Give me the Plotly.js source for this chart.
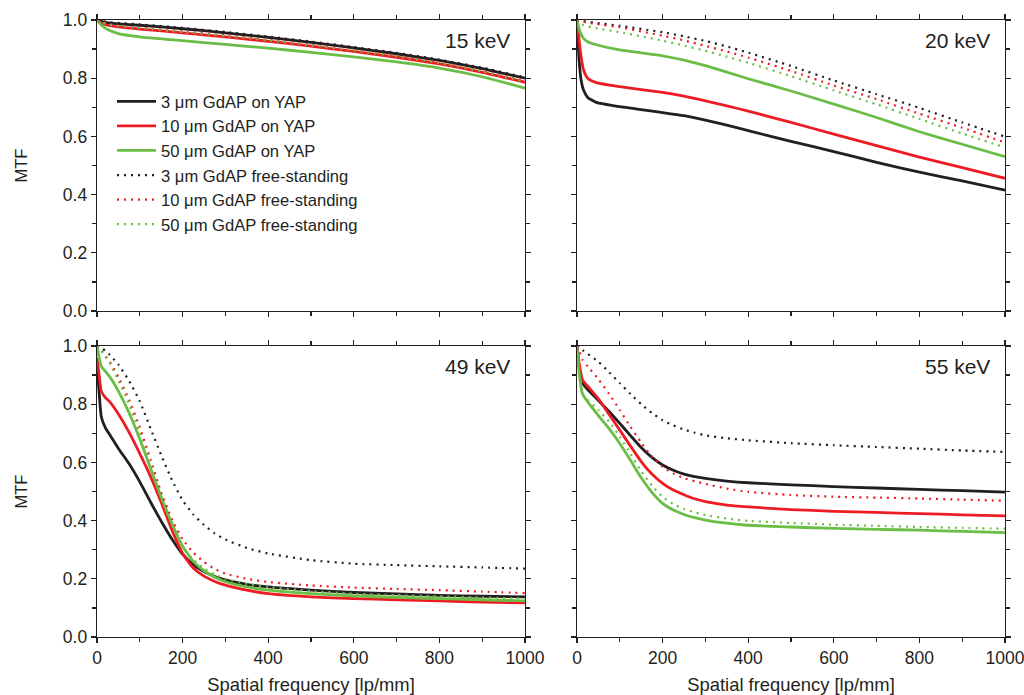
<!DOCTYPE html>
<html>
<head>
<meta charset="utf-8">
<script src="https://cdn.plot.ly/plotly-3.0.1.min.js"></script>
<style>
  html, body { margin: 0; padding: 0; background: #ffffff; }
  #chart { width: 1024px; height: 695px; }
</style>
</head>
<body>
<div id="chart"></div>
<script>
// Series names (legend)
const seriesNames = [
  '3 \u03bcm GdAP on YAP',
  '10 \u03bcm GdAP on YAP',
  '50 \u03bcm GdAP on YAP',
  '3 \u03bcm GdAP free-standing',
  '10 \u03bcm GdAP free-standing',
  '50 \u03bcm GdAP free-standing'
];
const panelLabels = ['15 keV', '20 keV', '49 keV', '55 keV'];
const xTickVals = [0, 200, 400, 600, 800, 1000];
const yTickVals = [0, 0.2, 0.4, 0.6, 0.8, 1.0];

// ---- 15 keV ----
const freq15 = [0, 10, 25, 50, 100, 200, 300, 400, 500, 600, 700, 800, 900, 1000];
const mtf15_3yap  = [1.0, 0.995, 0.990, 0.987, 0.982, 0.970, 0.956, 0.940, 0.923, 0.904, 0.884, 0.861, 0.833, 0.800];
const mtf15_10yap = [1.0, 0.990, 0.982, 0.976, 0.969, 0.956, 0.942, 0.927, 0.910, 0.892, 0.872, 0.849, 0.820, 0.786];
const mtf15_50yap = [1.0, 0.983, 0.967, 0.953, 0.942, 0.929, 0.916, 0.903, 0.889, 0.873, 0.856, 0.835, 0.805, 0.766];
const mtf15_3fs   = [1.0, 0.997, 0.993, 0.990, 0.985, 0.973, 0.959, 0.943, 0.926, 0.907, 0.887, 0.864, 0.836, 0.803];
const mtf15_10fs  = [1.0, 0.994, 0.987, 0.981, 0.974, 0.961, 0.947, 0.932, 0.915, 0.897, 0.877, 0.854, 0.825, 0.791];
const mtf15_50fs  = [1.0, 0.993, 0.985, 0.979, 0.972, 0.959, 0.945, 0.930, 0.913, 0.895, 0.875, 0.852, 0.823, 0.788];

// ---- 20 keV ----
const freq20 = [0, 5, 10, 15, 25, 45, 100, 200, 250, 300, 350, 400, 500, 600, 700, 800, 900, 1000];
const mtf20_3yap  = [1.0, 0.860, 0.790, 0.760, 0.734, 0.717, 0.702, 0.682, 0.671, 0.656, 0.639, 0.620, 0.583, 0.548, 0.511, 0.477, 0.447, 0.415];
const mtf20_10yap = [1.0, 0.930, 0.870, 0.830, 0.800, 0.785, 0.771, 0.751, 0.738, 0.722, 0.705, 0.687, 0.648, 0.608, 0.568, 0.529, 0.493, 0.456];
const mtf20_50yap = [1.0, 0.969, 0.950, 0.937, 0.925, 0.915, 0.897, 0.877, 0.862, 0.843, 0.821, 0.798, 0.756, 0.711, 0.665, 0.616, 0.573, 0.530];
const mtf20_3fs   = [1.0, 0.999, 0.998, 0.996, 0.994, 0.990, 0.980, 0.958, 0.944, 0.928, 0.909, 0.888, 0.842, 0.792, 0.745, 0.698, 0.648, 0.599];
const mtf20_10fs  = [1.0, 0.998, 0.996, 0.994, 0.991, 0.986, 0.975, 0.946, 0.930, 0.911, 0.892, 0.871, 0.825, 0.775, 0.728, 0.678, 0.630, 0.579];
const mtf20_50fs  = [1.0, 0.990, 0.986, 0.983, 0.978, 0.972, 0.958, 0.929, 0.912, 0.894, 0.874, 0.853, 0.807, 0.758, 0.710, 0.660, 0.610, 0.562];

// ---- 49 keV ----
const freq49 = [0, 5, 10, 20, 30, 50, 75, 100, 125, 150, 175, 200, 225, 250, 275, 300, 350, 400, 500, 600, 700, 800, 900, 1000];
const mtf49_3yap  = [0.93, 0.84, 0.757, 0.718, 0.695, 0.648, 0.595, 0.533, 0.464, 0.398, 0.337, 0.285, 0.249, 0.225, 0.208, 0.196, 0.181, 0.172, 0.161, 0.153, 0.148, 0.143, 0.140, 0.138];
const mtf49_10yap = [0.96, 0.90, 0.845, 0.822, 0.808, 0.766, 0.703, 0.630, 0.552, 0.463, 0.368, 0.287, 0.237, 0.209, 0.191, 0.178, 0.161, 0.149, 0.138, 0.132, 0.128, 0.124, 0.120, 0.117];
const mtf49_50yap = [1.0, 0.96, 0.930, 0.912, 0.894, 0.845, 0.770, 0.680, 0.580, 0.481, 0.391, 0.312, 0.260, 0.228, 0.205, 0.190, 0.172, 0.161, 0.149, 0.141, 0.136, 0.132, 0.128, 0.124];
const mtf49_3fs   = [1.0, 0.998, 0.994, 0.983, 0.969, 0.936, 0.880, 0.810, 0.717, 0.625, 0.540, 0.470, 0.421, 0.385, 0.356, 0.335, 0.306, 0.287, 0.264, 0.252, 0.247, 0.243, 0.239, 0.235];
const mtf49_10fs  = [1.0, 0.995, 0.985, 0.965, 0.946, 0.893, 0.815, 0.720, 0.610, 0.497, 0.405, 0.336, 0.290, 0.258, 0.234, 0.218, 0.200, 0.189, 0.177, 0.170, 0.165, 0.161, 0.156, 0.151];
const mtf49_50fs  = [1.0, 0.995, 0.985, 0.962, 0.940, 0.882, 0.800, 0.700, 0.590, 0.477, 0.386, 0.310, 0.266, 0.236, 0.215, 0.200, 0.183, 0.172, 0.158, 0.149, 0.144, 0.140, 0.136, 0.132];

// ---- 55 keV ----
const freq55 = [0, 5, 13, 25, 50, 75, 100, 125, 150, 175, 200, 225, 250, 275, 300, 350, 400, 500, 600, 700, 800, 900, 1000];
const mtf55_3yap  = [1.0, 0.929, 0.872, 0.850, 0.813, 0.775, 0.734, 0.692, 0.651, 0.617, 0.591, 0.573, 0.560, 0.551, 0.545, 0.536, 0.530, 0.523, 0.517, 0.512, 0.507, 0.503, 0.498];
const mtf55_10yap = [1.0, 0.940, 0.883, 0.862, 0.818, 0.765, 0.711, 0.656, 0.603, 0.560, 0.528, 0.505, 0.489, 0.475, 0.465, 0.453, 0.447, 0.438, 0.432, 0.428, 0.424, 0.420, 0.416];
const mtf55_50yap = [1.0, 0.906, 0.835, 0.808, 0.761, 0.716, 0.665, 0.607, 0.547, 0.497, 0.459, 0.436, 0.421, 0.410, 0.402, 0.391, 0.384, 0.378, 0.373, 0.370, 0.367, 0.363, 0.359];
const mtf55_3fs   = [1.0, 0.995, 0.986, 0.973, 0.946, 0.910, 0.872, 0.835, 0.800, 0.770, 0.745, 0.727, 0.713, 0.702, 0.693, 0.683, 0.676, 0.666, 0.659, 0.653, 0.647, 0.641, 0.636];
const mtf55_10fs  = [1.0, 0.985, 0.952, 0.930, 0.886, 0.835, 0.780, 0.722, 0.668, 0.620, 0.585, 0.562, 0.546, 0.535, 0.526, 0.510, 0.499, 0.488, 0.482, 0.479, 0.476, 0.472, 0.468];
const mtf55_50fs  = [1.0, 0.920, 0.837, 0.815, 0.780, 0.740, 0.688, 0.630, 0.570, 0.520, 0.482, 0.457, 0.440, 0.428, 0.419, 0.407, 0.399, 0.392, 0.386, 0.382, 0.378, 0.375, 0.372];

const panels = [
  { freq: freq15, series: [mtf15_3yap, mtf15_10yap, mtf15_50yap, mtf15_3fs, mtf15_10fs, mtf15_50fs] },
  { freq: freq20, series: [mtf20_3yap, mtf20_10yap, mtf20_50yap, mtf20_3fs, mtf20_10fs, mtf20_50fs] },
  { freq: freq49, series: [mtf49_3yap, mtf49_10yap, mtf49_50yap, mtf49_3fs, mtf49_10fs, mtf49_50fs] },
  { freq: freq55, series: [mtf55_3yap, mtf55_10yap, mtf55_50yap, mtf55_3fs, mtf55_10fs, mtf55_50fs] }
];

// styling
const INK = '#231f20';
const colors = ['#231f20', '#ed1c24', '#6abd45', '#231f20', '#ed1c24', '#6abd45'];
const FONT = 'Liberation Sans, Arial, Helvetica, sans-serif';

const traces = [];
panels.forEach((p, pi) => {
  const sfx = pi === 0 ? '' : String(pi + 1);
  p.series.forEach((vals, si) => {
    const dotted = si >= 3;
    traces.push({
      type: 'scatter',
      mode: 'lines',
      x: p.freq,
      y: vals,
      xaxis: 'x' + sfx,
      yaxis: 'y' + sfx,
      name: seriesNames[si],
      legendgroup: 's' + si,
      showlegend: pi === 0,
      line: {
        color: colors[si],
        width: dotted ? 2.2 : 2.8,
        dash: dotted ? '2px,5px' : 'solid',
        shape: 'spline',
        smoothing: 0.5
      },
      hoverinfo: 'skip'
    });
  });
});

// panel geometry in paper fractions
const W = 1024, H = 695;
const xDomL = [97 / W, 525 / W];
const xDomR = [577 / W, 1005 / W];
const yDomT = [1 - 311 / H, 1 - 20 / H];
const yDomB = [1 - 637 / H, 1 - 346 / H];
const geo = [
  { xd: xDomL, yd: yDomT, xl: false, yl: true },
  { xd: xDomR, yd: yDomT, xl: false, yl: false },
  { xd: xDomL, yd: yDomB, xl: true, yl: true },
  { xd: xDomR, yd: yDomB, xl: true, yl: false }
];

const tickFont = { family: FONT, size: 17.5, color: INK };
const layout = {
  width: W,
  height: H,
  margin: { l: 0, r: 0, t: 0, b: 0 },
  paper_bgcolor: '#ffffff',
  plot_bgcolor: '#ffffff',
  font: { family: FONT, color: INK },
  showlegend: true,
  legend: {
    x: 112 / W, y: 1 - 84 / H,
    xanchor: 'left', yanchor: 'top',
    bgcolor: 'rgba(0,0,0,0)',
    font: { family: FONT, size: 16.6, color: INK },
    tracegroupgap: 0,
    itemwidth: 39
  },
  annotations: [],
  hovermode: false
};

geo.forEach((g, i) => {
  const n = i + 1;
  const sfx = n === 1 ? '' : String(n);
  const ov = String(n + 4);
  const common = { showgrid: false, zeroline: false, linecolor: INK, linewidth: 1.3, tickcolor: INK, tickwidth: 1.3 };

  // main axes: outward ticks, mirrored on every side
  layout['xaxis' + sfx] = Object.assign({}, common, {
    domain: g.xd, anchor: 'y' + sfx, range: [0, 1000],
    showline: true, mirror: 'allticks',
    ticks: 'outside', ticklen: 5, tickmode: 'array', tickvals: xTickVals,
    minor: { ticks: 'outside', dtick: 100, tick0: 0, ticklen: 4, tickwidth: 1.3, tickcolor: INK },
    showticklabels: g.xl, tickfont: tickFont, ticklabeloverflow: 'allow',
    title: g.xl ? { text: 'Spatial frequency [lp/mm]', font: { family: FONT, size: 18.4, color: INK }, standoff: 11 } : { text: '' }
  });
  layout['yaxis' + sfx] = Object.assign({}, common, {
    domain: g.yd, anchor: 'x' + sfx, range: [0, 1],
    showline: true, mirror: 'allticks',
    ticks: 'outside', ticklen: 5, tickmode: 'array', tickvals: yTickVals, tickformat: '.1f',
    minor: { ticks: 'outside', dtick: 0.1, tick0: 0, ticklen: 4, tickwidth: 1.3, tickcolor: INK },
    showticklabels: g.yl, tickfont: tickFont, ticklabeloverflow: 'allow',
    title: g.yl ? { text: 'MTF', font: { family: FONT, size: 16.5, color: INK }, standoff: 31 } : { text: '' }
  });

  // overlay axes: inward ticks so every tick crosses the frame
  layout['xaxis' + ov] = Object.assign({}, common, {
    overlaying: 'x' + sfx, anchor: 'y' + sfx, range: [0, 1000],
    showline: false, mirror: 'allticks',
    ticks: 'inside', ticklen: 5, tickmode: 'array', tickvals: xTickVals,
    minor: { ticks: 'inside', dtick: 100, tick0: 0, ticklen: 4, tickwidth: 1.3, tickcolor: INK },
    showticklabels: false
  });
  layout['yaxis' + ov] = Object.assign({}, common, {
    overlaying: 'y' + sfx, anchor: 'x' + sfx, range: [0, 1],
    showline: false, mirror: 'allticks',
    ticks: 'inside', ticklen: 5, tickmode: 'array', tickvals: yTickVals,
    minor: { ticks: 'inside', dtick: 0.1, tick0: 0, ticklen: 4, tickwidth: 1.3, tickcolor: INK },
    showticklabels: false
  });

  layout.annotations.push({
    text: panelLabels[i],
    xref: 'x' + sfx + ' domain', yref: 'y' + sfx + ' domain',
    x: 0.97, y: 0.93, xanchor: 'right', yanchor: 'middle',
    showarrow: false,
    font: { family: FONT, size: 21, color: INK }
  });
});

Plotly.newPlot('chart', traces, layout, { staticPlot: true, displayModeBar: false });
</script>
</body>
</html>
